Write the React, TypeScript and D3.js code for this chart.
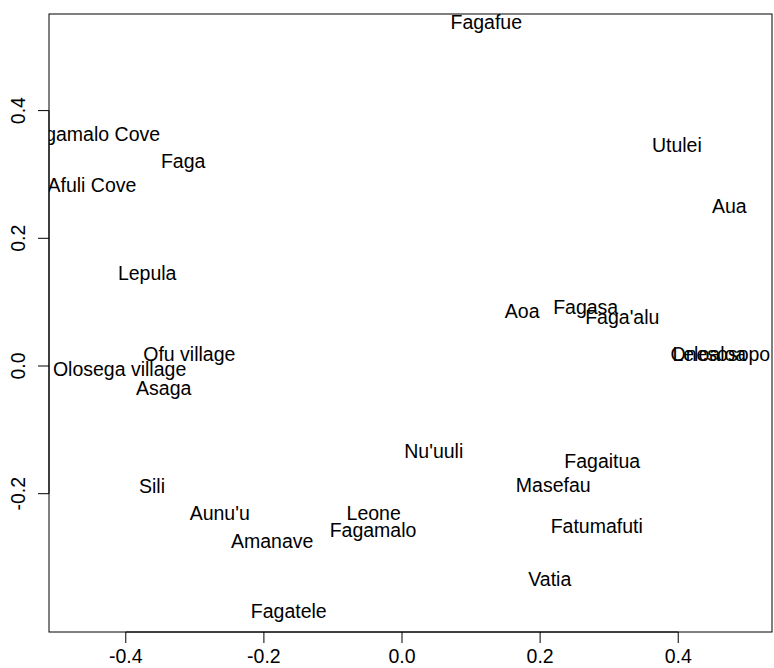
import { useEffect } from "react";
import * as d3 from "d3";

// site labels and their positions on the two axes
const sites = [
  "Fagafue", "Fagamalo Cove", "Faga", "Afuli Cove", "Utulei", "Aua", "Lepula",
  "Aoa", "Fagasa", "Faga'alu", "Leloaloa", "Onesosopo", "Ofu village",
  "Olosega village", "Asaga", "Nu'uuli", "Fagaitua", "Masefau", "Sili",
  "Aunu'u", "Leone", "Fagamalo", "Fatumafuti", "Amanave", "Vatia", "Fagatele",
];
const dim1 = [
  0.122, -0.450, -0.317, -0.449, 0.398, 0.474, -0.369,
  0.174, 0.266, 0.319, 0.445, 0.461, -0.308,
  -0.409, -0.345, 0.046, 0.290, 0.219, -0.362,
  -0.264, -0.041, -0.042, 0.282, -0.188, 0.214, -0.164,
];
const dim2 = [
  0.539, 0.363, 0.321, 0.283, 0.346, 0.251, 0.146,
  0.086, 0.092, 0.077, 0.019, 0.019, 0.019,
  -0.005, -0.034, -0.133, -0.149, -0.186, -0.188,
  -0.230, -0.230, -0.257, -0.251, -0.274, -0.334, -0.384,
];
const xTicks = [-0.4, -0.2, 0.0, 0.2, 0.4];
const yTicks = [-0.2, 0.0, 0.2, 0.4];

const W = 774;
const H = 668;
const left = 49;
const right = 772;
const top = 14;
const bottom = 632;
const font = "Liberation Sans, Arial, sans-serif";
const fs = 19.5;

function App() {
  useEffect(() => {
    document.body.style.margin = "0";
  }, []);

  const x = d3.scaleLinear().domain([-0.5112, 0.5358]).range([left, right]);
  const y = d3.scaleLinear().domain([-0.4166, 0.5513]).range([bottom, top]);
  const tick = 11;

  return (
    <svg width={W} height={H} style={{ display: "block", background: "#fff" }}>
      <defs>
        <clipPath id="plot-clip">
          <rect x={left} y={top} width={right - left} height={bottom - top} />
        </clipPath>
      </defs>
      <g clipPath="url(#plot-clip)" fontFamily={font} fontSize={fs} fill="#000">
        {sites.map((s, i) => (
          <text
            key={s}
            x={x(dim1[i])}
            y={y(dim2[i])}
            dy="0.36em"
            textAnchor="middle"
          >
            {s}
          </text>
        ))}
      </g>
      <rect
        x={left}
        y={top}
        width={right - left}
        height={bottom - top}
        fill="none"
        stroke="#000"
        strokeWidth={1}
      />
      {/* bottom axis */}
      <line
        x1={x(xTicks[0])}
        x2={x(xTicks[xTicks.length - 1])}
        y1={bottom}
        y2={bottom}
        stroke="#000"
        strokeWidth={1}
      />
      {xTicks.map((t) => (
        <g key={`x-${t}`}>
          <line x1={x(t)} x2={x(t)} y1={bottom} y2={bottom + tick} stroke="#000" />
          <text
            x={x(t)}
            y={bottom + 31}
            textAnchor="middle"
            fontFamily={font}
            fontSize={fs}
          >
            {t.toFixed(1)}
          </text>
        </g>
      ))}
      {/* left axis */}
      <line
        x1={left}
        x2={left}
        y1={y(yTicks[0])}
        y2={y(yTicks[yTicks.length - 1])}
        stroke="#000"
        strokeWidth={1}
      />
      {yTicks.map((t) => (
        <g key={`y-${t}`}>
          <line x1={left - tick} x2={left} y1={y(t)} y2={y(t)} stroke="#000" />
          <text
            transform={`translate(${left - 24},${y(t)}) rotate(-90)`}
            textAnchor="middle"
            fontFamily={font}
            fontSize={fs}
          >
            {t.toFixed(1)}
          </text>
        </g>
      ))}
    </svg>
  );
}

export default App;
